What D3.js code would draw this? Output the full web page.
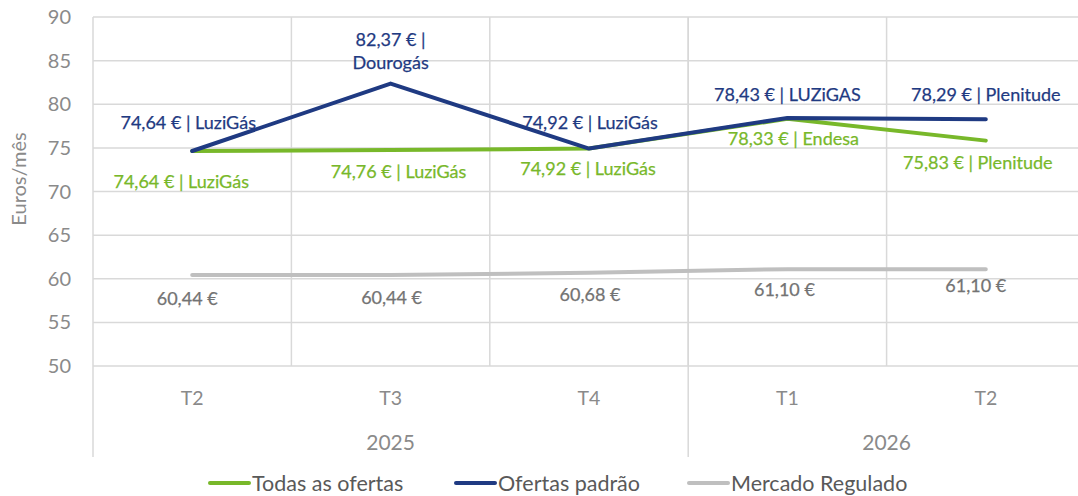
<!DOCTYPE html>
<html>
<head>
<meta charset="utf-8">
<script src="https://cdn.jsdelivr.net/npm/d3@7"></script>
<style>
  html, body { margin: 0; padding: 0; background: #ffffff; }
  svg { display: block; }
  text { font-family: Lato, "Open Sans", sans-serif; }
</style>
</head>
<body>
<svg id="chart" width="1078" height="496"></svg>
<script>
// ---------- data ----------
const quarters = ["T2", "T3", "T4", "T1", "T2"];
const years = ["2025", "2026"];
const yearSpans = [[0, 2], [3, 4]];   // index ranges of quarters per year
const yTicks = [50, 55, 60, 65, 70, 75, 80, 85, 90];

const todasValues = [74.64, 74.76, 74.92, 78.33, 75.83];
const todasSuppliers = ["LuziGás", "LuziGás", "LuziGás", "Endesa", "Plenitude"];

const padraoValues = [74.64, 82.37, 74.92, 78.43, 78.29];
const padraoSuppliers = ["LuziGás", "Dourogás", "LuziGás", "LUZiGAS", "Plenitude"];

const reguladoValues = [60.44, 60.44, 60.68, 61.10, 61.10];

const seriesNames = ["Todas as ofertas", "Ofertas padrão", "Mercado Regulado"];

// ---------- layout (label offsets in px, relative to the point) ----------
const todasLabelOffsets = [[-11, 31], [8, 22], [-1, 20], [6, 20], [-8, 22]];
const padraoLabelOffsets = [[-4, -28], [0, -44], [1, -26], [0, -23], [0, -24]];
const reguladoLabelOffsets = [[-5, 24], [1, 23], [1, 22], [-3, 21], [-10, 17]];
const wrapLineGap = 23;

const colors = { todas: "#78B82A", padrao: "#1F3A82", regulado: "#BFBFBF",
                 reguladoText: "#737373", axisText: "#8A8A8A", grid: "#D9D9D9", legendText: "#595959" };

const plot = { left: 93, top: 17, bottom: 366, bandWidth: 198.4 };
const fmt = v => d3.format(".2f")(v).replace(".", ",") + " €";

const svg = d3.select("#chart");
const n = quarters.length;
const x = d3.scaleBand().domain(d3.range(n + 1)).range([plot.left, plot.left + plot.bandWidth * (n + 1)]).paddingInner(0).paddingOuter(0);
const cx = i => x(i) + x.bandwidth() / 2;
const y = d3.scaleLinear().domain([50, 90]).range([plot.bottom, plot.top]);

// gridlines
const g = svg.append("g");
g.selectAll("line.h").data(yTicks).join("line")
  .attr("x1", plot.left).attr("x2", 1078)
  .attr("y1", d => y(d)).attr("y2", d => y(d))
  .attr("stroke", colors.grid).attr("stroke-width", 1.5);

// vertical category separators
g.selectAll("line.v").data(d3.range(1, n + 1)).join("line")
  .attr("x1", d => x(d)).attr("x2", d => x(d))
  .attr("y1", plot.top).attr("y2", plot.bottom)
  .attr("stroke", colors.grid).attr("stroke-width", 1.5);

// left axis line + year separators extending down
const yearBounds = [0, yearSpans[1][0]];
g.selectAll("line.yr").data(yearBounds).join("line")
  .attr("x1", d => x(d)).attr("x2", d => x(d))
  .attr("y1", plot.top).attr("y2", 457)
  .attr("stroke", colors.grid).attr("stroke-width", 1.5);

// y tick labels
svg.append("g").selectAll("text").data(yTicks).join("text")
  .attr("x", 71).attr("y", d => y(d)).attr("dy", "0.35em")
  .attr("text-anchor", "end").attr("fill", colors.axisText)
  .attr("font-size", 20).text(d => d);

// y axis title
svg.append("text")
  .attr("transform", "translate(26,179) rotate(-90)")
  .attr("text-anchor", "middle").attr("fill", colors.axisText)
  .attr("font-size", 20).text("Euros/mês");

// x quarter labels
svg.append("g").selectAll("text").data(quarters).join("text")
  .attr("x", (d, i) => cx(i)).attr("y", 398).attr("dy", "0.35em")
  .attr("text-anchor", "middle").attr("fill", colors.axisText)
  .attr("font-size", 19.5).text(d => d);

// year labels
svg.append("g").selectAll("text").data(years).join("text")
  .attr("x", (d, i) => (x(yearSpans[i][0]) + x(yearSpans[i][1]) + x.bandwidth()) / 2)
  .attr("y", 443).attr("dy", "0.35em")
  .attr("text-anchor", "middle").attr("fill", colors.axisText)
  .attr("font-size", 21).text(d => d);

// lines
const line = d3.line().x((d, i) => cx(i)).y(d => y(d));
const drawLine = (vals, color) => svg.append("path").datum(vals)
  .attr("d", line).attr("fill", "none").attr("stroke", color)
  .attr("stroke-width", 4).attr("stroke-linejoin", "round").attr("stroke-linecap", "round");
drawLine(reguladoValues, colors.regulado);
drawLine(todasValues, colors.todas);
drawLine(padraoValues, colors.padrao);

// labels
const labelFont = 18;
function drawLabels(vals, suppliers, offsets, color) {
  const grp = svg.append("g").attr("fill", color).attr("stroke", color)
    .attr("stroke-width", 0.25).attr("font-size", labelFont).attr("text-anchor", "middle");
  vals.forEach((v, i) => {
    const px = cx(i) + offsets[i][0], py = y(v) + offsets[i][1];
    if (suppliers && suppliers[i] === "Dourogás") {
      grp.append("text").attr("x", px).attr("y", py).attr("dy", "0.35em").text(fmt(v) + " |");
      grp.append("text").attr("x", px).attr("y", py + wrapLineGap).attr("dy", "0.35em").text(suppliers[i]);
    } else {
      const txt = suppliers ? fmt(v) + " | " + suppliers[i] : fmt(v);
      grp.append("text").attr("x", px).attr("y", py).attr("dy", "0.35em").text(txt);
    }
  });
}
drawLabels(padraoValues, padraoSuppliers, padraoLabelOffsets, colors.padrao);
drawLabels(todasValues, todasSuppliers, todasLabelOffsets, colors.todas);
drawLabels(reguladoValues, null, reguladoLabelOffsets, colors.reguladoText);

// legend
const legendItems = [
  { name: seriesNames[0], color: colors.todas, x: 210 },
  { name: seriesNames[1], color: colors.padrao, x: 456 },
  { name: seriesNames[2], color: colors.regulado, x: 689 }
];
const lg = svg.append("g");
legendItems.forEach(it => {
  lg.append("line").attr("x1", it.x).attr("x2", it.x + 39).attr("y1", 483).attr("y2", 483)
    .attr("stroke", it.color).attr("stroke-width", 4).attr("stroke-linecap", "round");
  lg.append("text").attr("x", it.x + 42).attr("y", 483).attr("dy", "0.35em")
    .attr("fill", colors.legendText).attr("font-size", 21.5).text(it.name);
});
</script>
</body>
</html>
